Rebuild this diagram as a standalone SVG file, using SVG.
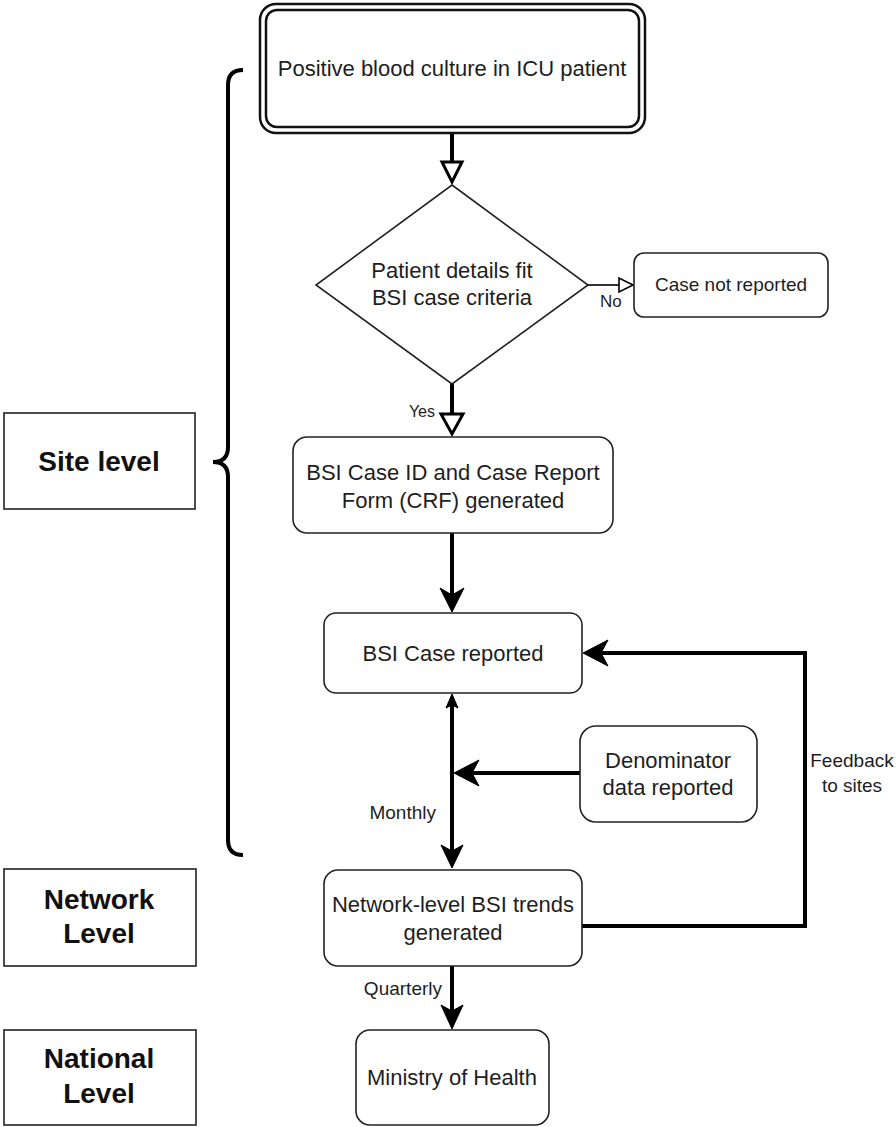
<svg xmlns="http://www.w3.org/2000/svg" width="896" height="1127" viewBox="0 0 896 1127">
<style>
.node{fill:#fff;stroke:#222;stroke-width:1.6}
.lvl{fill:#fff;stroke:#222;stroke-width:1.6}
.t{font-family:"Liberation Sans",Arial,sans-serif;font-size:22px;fill:#1e1e1e;text-anchor:middle}
.b{font-family:"Liberation Sans",Arial,sans-serif;font-size:28px;font-weight:bold;fill:#111;text-anchor:middle}
.lab{font-family:"Liberation Sans",Arial,sans-serif;font-size:19px;fill:#1e1e1e}
.thick{fill:none;stroke:#000;stroke-width:4}
.thin{fill:none;stroke:#000;stroke-width:1.6}
.hollow{fill:#fff;stroke:#000;stroke-width:3;stroke-linejoin:miter}
.head{fill:#000;stroke:#000;stroke-width:1;stroke-linejoin:miter}
</style>

<g id="connectors">
  <!-- top box to diamond -->
  <line class="thick" x1="452" y1="133" x2="452" y2="162"/>
  <polygon class="hollow" points="442,162 462,162 452,182"/>
  <!-- No -->
  <line class="thin" x1="588" y1="285" x2="619" y2="285"/>
  <polygon class="thin" style="fill:#fff" points="619,278 619,292 633,285"/>
  <text class="lab" x="600" y="307" style="font-size:17px">No</text>
  <!-- Yes -->
  <line class="thick" x1="452" y1="383" x2="452" y2="414"/>
  <polygon class="hollow" points="441,414 463,414 452,434"/>
  <text class="lab" x="435" y="417" style="font-size:16px;text-anchor:end">Yes</text>
  <!-- CRF to BSI reported -->
  <line class="thick" x1="452" y1="533" x2="452" y2="600"/>
  <path class="head" d="M452,612 L440,588 L452,595 L464,588 Z"/>
  <!-- bidirectional monthly -->
  <line class="thick" x1="452" y1="702" x2="452" y2="856"/>
  <path class="head" d="M452,694 L458,708 L452,705 L446,708 Z"/>
  <path class="head" d="M452,868 L441,845 L452,851 L463,845 Z"/>
  <text class="lab" x="436" y="819" style="text-anchor:end">Monthly</text>
  <!-- denominator to line -->
  <line class="thick" x1="580" y1="773" x2="465" y2="773"/>
  <path class="head" d="M454,773 L479,760 L472,773 L479,786 Z"/>
  <!-- feedback -->
  <polyline class="thick" points="582,926 805,926 805,653 596,653"/>
  <path class="head" d="M583,653 L608,640 L601,653 L608,666 Z"/>
  <text class="lab" x="852" y="767" style="text-anchor:middle">Feedback</text>
  <text class="lab" x="852" y="792" style="text-anchor:middle">to sites</text>
  <!-- quarterly -->
  <line class="thick" x1="452" y1="966" x2="452" y2="1016"/>
  <path class="head" d="M452,1029 L441,1005 L452,1011 L463,1005 Z"/>
  <text class="lab" x="442" y="995" style="text-anchor:end">Quarterly</text>
  <!-- brace -->
  <path class="thick" d="M243,70 Q228,70 228,85 L228,447 Q228,462 213,462 Q228,462 228,477 L228,840 Q228,855 243,855"/>
</g>

<g id="start">
  <rect x="260" y="4" width="385" height="129" rx="16" fill="#fff" stroke="#111" stroke-width="2.5"/>
  <rect x="266" y="10" width="373" height="117" rx="11" fill="#fff" stroke="#111" stroke-width="2.5"/>
  <text class="t" x="452" y="76">Positive blood culture in ICU patient</text>
</g>

<g id="decision">
  <polygon points="452,185 588,285 452,384 316,285" fill="#fff" stroke="#222" stroke-width="1.6"/>
  <text class="t" x="452" y="278">Patient details fit</text>
  <text class="t" x="452" y="305">BSI case criteria</text>
</g>

<g id="not-reported">
  <rect class="node" x="634" y="253" width="194" height="64" rx="10"/>
  <text class="t" x="731" y="291" style="font-size:19px">Case not reported</text>
</g>

<g id="crf">
  <rect class="node" x="293" y="437" width="320" height="96" rx="14"/>
  <text class="t" x="453" y="480">BSI Case ID and Case Report</text>
  <text class="t" x="453" y="508">Form (CRF) generated</text>
</g>

<g id="reported">
  <rect class="node" x="324" y="613" width="258" height="80" rx="12"/>
  <text class="t" x="453" y="661">BSI Case reported</text>
</g>

<g id="denominator">
  <rect class="node" x="580" y="726" width="177" height="96" rx="16"/>
  <text class="t" x="668" y="768">Denominator</text>
  <text class="t" x="668" y="795">data reported</text>
</g>

<g id="network">
  <rect class="node" x="324" y="870" width="258" height="96" rx="14"/>
  <text class="t" x="453" y="912">Network-level BSI trends</text>
  <text class="t" x="453" y="940">generated</text>
</g>

<g id="ministry">
  <rect class="node" x="356" y="1030" width="193" height="95" rx="14"/>
  <text class="t" x="452" y="1085">Ministry of Health</text>
</g>

<g id="site-level">
  <rect class="lvl" x="4" y="413" width="191" height="96"/>
  <text class="b" x="99" y="471">Site level</text>
</g>

<g id="network-level">
  <rect class="lvl" x="4" y="869" width="192" height="97"/>
  <text class="b" x="99" y="909">Network</text>
  <text class="b" x="99" y="943">Level</text>
</g>

<g id="national-level">
  <rect class="lvl" x="4" y="1030" width="192" height="95"/>
  <text class="b" x="99" y="1068">National</text>
  <text class="b" x="99" y="1103">Level</text>
</g>
</svg>
